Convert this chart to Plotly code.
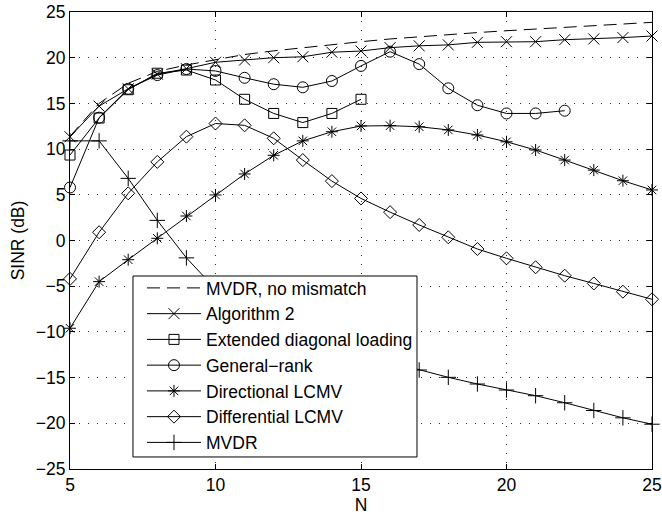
import plotly.graph_objects as go

# Array size (number of sensors)
N = list(range(5, 26))

# Output SINR in dB for each beamformer
sinr_mvdr_ideal = [11.4, 15.0, 17.2, 18.5, 19.2, 19.75, 20.35, 20.75, 21.1, 21.45, 21.75,
                   22.05, 22.3, 22.5, 22.75, 22.95, 23.15, 23.35, 23.55, 23.7, 23.87]
sinr_alg2 = [11.35, 14.7, 16.6, 18.2, 18.8, 19.5, 19.75, 20.0, 20.1, 20.6, 20.73,
             21.1, 21.3, 21.4, 21.68, 21.75, 21.75, 21.97, 22.05, 22.2, 22.37]
N_edl = list(range(5, 16))
sinr_edl = [9.35, 13.4, 16.5, 18.3, 18.65, 17.56, 15.45, 13.9, 12.9, 13.9, 15.45]
N_gr = list(range(5, 23))
sinr_gr = [5.8, 13.44, 16.6, 18.1, 18.76, 18.55, 17.8, 17.1, 16.76, 17.45, 19.1,
           20.66, 19.3, 16.65, 14.8, 13.9, 13.9, 14.2]
sinr_dir_lcmv = [-9.6, -4.5, -2.1, 0.24, 2.68, 4.98, 7.28, 9.32, 10.9, 11.9, 12.53,
                 12.56, 12.45, 12.1, 11.54, 10.8, 9.9, 8.8, 7.7, 6.54, 5.53]
sinr_diff_lcmv = [-4.2, 0.9, 5.16, 8.6, 11.36, 12.8, 12.6, 11.18, 8.8, 6.5, 4.6,
                  3.1, 1.7, 0.35, -0.93, -1.95, -2.93, -3.85, -4.7, -5.6, -6.43]
sinr_mvdr = [10.9, 10.9, 6.8, 2.2, -1.9, -5.3, -7.3, -8.9, -10.1, -11.1, -12.1,
             -13.3, -14.17, -14.97, -15.7, -16.36, -16.98, -17.75, -18.6, -19.4, -20.1]

x_ticks = [5, 10, 15, 20, 25]
y_ticks = [-25, -20, -15, -10, -5, 0, 5, 10, 15, 20, 25]

FONT = "Liberation Sans, Arial, Helvetica, sans-serif"
BLACK = "#000000"

fig = go.Figure()


def add_series(x, y, name, symbol=None, size=10, dash="solid"):
    mode = "lines+markers" if symbol else "lines"
    kw = {}
    if symbol:
        kw["marker"] = dict(symbol=symbol, size=size, color=BLACK,
                            line=dict(color=BLACK, width=1))
    fig.add_trace(go.Scatter(x=x, y=y, name=name, mode=mode,
                             line=dict(color=BLACK, width=1, dash=dash),
                             cliponaxis=False, **kw))


add_series(N, sinr_mvdr_ideal, "MVDR, no mismatch", dash="13px,7px")
add_series(N, sinr_alg2, "Algorithm 2", "x-thin-open", 11)
add_series(N_edl, sinr_edl, "Extended diagonal loading", "square-open", 10)
add_series(N_gr, sinr_gr, "General\u2212rank", "circle-open", 11)
add_series(N, sinr_dir_lcmv, "Directional LCMV", "asterisk-open", 10)
add_series(N, sinr_diff_lcmv, "Differential LCMV", "diamond-open", 10)
add_series(N, sinr_mvdr, "MVDR", "cross-thin-open", 11)

axis_common = dict(
    showline=True, linecolor=BLACK, linewidth=1, mirror="ticks",
    ticks="inside", ticklen=5, tickwidth=1, tickcolor=BLACK,
    showgrid=True, gridcolor="#333333", gridwidth=1, griddash="1px,8px",
    zeroline=False, automargin=False,
    tickfont=dict(family=FONT, size=17.5, color=BLACK),
    title_font=dict(family=FONT, size=17.5, color=BLACK),
)

fig.update_xaxes(range=[5, 25], tickvals=x_ticks,
                 ticktext=[str(v) for v in x_ticks],
                 title_text="N", title_standoff=4, **axis_common)
fig.update_yaxes(range=[-25, 25], tickvals=y_ticks,
                 ticktext=[("\u2212" + str(-v)) if v < 0 else str(v) for v in y_ticks],
                 title_text="SINR (dB)", title_standoff=6, **axis_common)

# Opaque legend frame drawn over the curves; the legend entries sit on top of it
fig.add_shape(type="rect", xref="paper", yref="paper",
              x0=0.1082, x1=0.5962, y0=0.0263, y1=0.4223,
              fillcolor="white", line=dict(color=BLACK, width=1), layer="above")

fig.update_layout(
    width=662, height=516,
    margin=dict(l=70, r=10, t=12, b=47),
    paper_bgcolor="white", plot_bgcolor="white",
    showlegend=True,
    legend=dict(
        x=0.1237, y=0.4354, xanchor="left", yanchor="top",
        bgcolor="rgba(0,0,0,0)", borderwidth=0,
        font=dict(family=FONT, size=17.5, color=BLACK),
        itemwidth=54, tracegroupgap=0,
    ),
    font=dict(family=FONT, color=BLACK),
)

fig.write_html("out.html")
